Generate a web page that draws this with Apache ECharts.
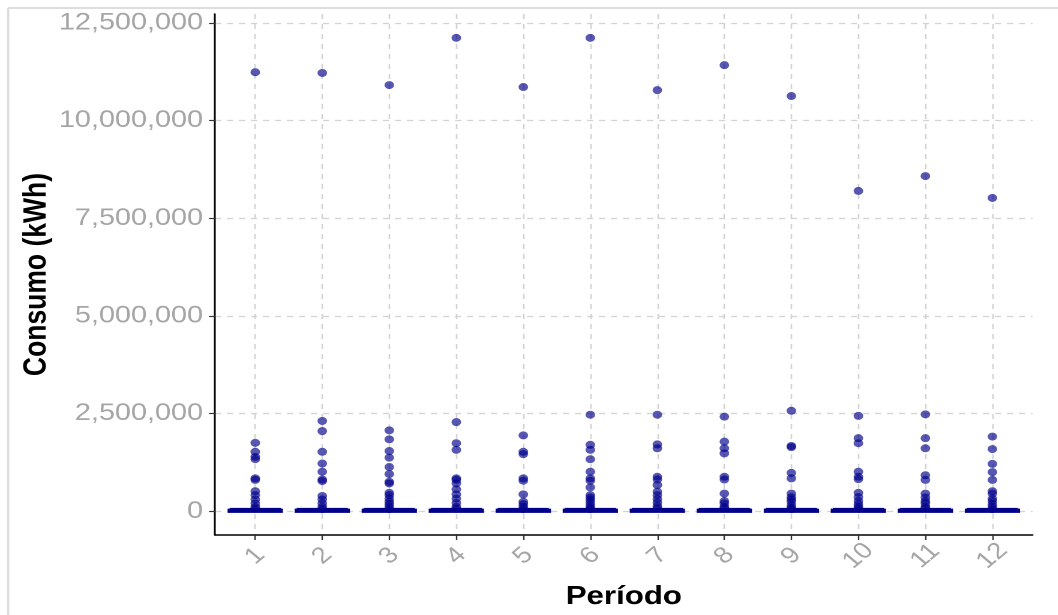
<!DOCTYPE html>
<html>
<head>
<meta charset="utf-8">
<script src="https://cdn.jsdelivr.net/npm/echarts@6/dist/echarts.min.js"></script>
<style>
  html, body { margin: 0; padding: 0; background: #ffffff; overflow: hidden; }
  #wrap { width: 1058px; height: 615px; overflow: hidden; position: relative; }
  #chart { width: 881.67px; height: 615px; transform: scaleX(1.2); transform-origin: 0 0; }
</style>
</head>
<body>
<div id="wrap"><div id="chart"></div></div>
<script>
// ---- data (kWh) ----
const periods = [1, 2, 3, 4, 5, 6, 7, 8, 9, 10, 11, 12];
const yTicks = [0, 2500000, 5000000, 7500000, 10000000, 12500000];

// flat boxes: [min, Q1, median, Q3, max] per period
const boxMin    = [0, 0, 0, 0, 0, 0, 0, 0, 0, 0, 0, 0];
const boxQ1     = [0, 0, 0, 0, 0, 0, 0, 0, 0, 0, 0, 0];
const boxMedian = [0, 0, 0, 0, 0, 0, 0, 0, 0, 0, 0, 0];
const boxQ3     = [20000, 20000, 20000, 20000, 20000, 20000, 20000, 20000, 20000, 20000, 20000, 20000];
const boxMax    = [40000, 40000, 40000, 40000, 40000, 40000, 40000, 40000, 40000, 40000, 40000, 40000];

// outliers per period
const outliers1  = [11240000, 1750000, 1520000, 1390000, 1330000, 840000, 800000, 510000, 410000, 300000, 200000, 110000, 60000];
const outliers2  = [11220000, 2310000, 2050000, 1520000, 1220000, 1010000, 810000, 770000, 390000, 300000, 200000, 110000, 50000];
const outliers3  = [10910000, 2070000, 1840000, 1540000, 1370000, 1130000, 950000, 750000, 710000, 470000, 410000, 320000, 240000, 180000, 110000, 50000];
const outliers4  = [12120000, 2280000, 1740000, 1570000, 840000, 800000, 710000, 560000, 430000, 320000, 210000, 110000, 60000];
const outliers5  = [10860000, 1940000, 1520000, 1460000, 840000, 780000, 430000, 240000, 180000, 110000, 50000];
const outliers6  = [12120000, 2470000, 1700000, 1570000, 1330000, 1010000, 840000, 780000, 610000, 410000, 350000, 290000, 220000, 150000, 90000, 50000];
const outliers7  = [10780000, 2470000, 1710000, 1610000, 880000, 810000, 670000, 500000, 410000, 310000, 220000, 130000, 70000];
const outliers8  = [11420000, 2420000, 1780000, 1610000, 1480000, 880000, 810000, 450000, 260000, 200000, 110000, 70000];
const outliers9  = [10630000, 2570000, 1670000, 1640000, 980000, 840000, 450000, 360000, 300000, 240000, 150000, 90000, 50000];
const outliers10 = [8200000, 2440000, 1870000, 1740000, 1010000, 880000, 820000, 470000, 360000, 260000, 180000, 110000, 60000];
const outliers11 = [8580000, 2480000, 1870000, 1610000, 920000, 800000, 450000, 350000, 260000, 200000, 110000, 70000];
const outliers12 = [8020000, 1910000, 1590000, 1210000, 1000000, 800000, 510000, 450000, 320000, 260000, 180000, 110000, 50000];

const allOutliers = [outliers1, outliers2, outliers3, outliers4, outliers5, outliers6,
                     outliers7, outliers8, outliers9, outliers10, outliers11, outliers12];

const boxData = periods.map((p, i) => [p, boxMin[i], boxQ1[i], boxMedian[i], boxQ3[i], boxMax[i]]);
const pointData = [];
periods.forEach((p, i) => allOutliers[i].forEach(v => pointData.push([p, v])));

const grey = '#a6a6a6';
const gridLine = { show: true, lineStyle: { color: '#d3d3d3', type: [5, 5], width: 1.3 } };

const chart = echarts.init(document.getElementById('chart'), null, { renderer: 'canvas', devicePixelRatio: 2 });
chart.setOption({
  animation: false,
  backgroundColor: '#ffffff',
  textStyle: { fontFamily: 'Liberation Sans, Arial, sans-serif' },
  grid: { left: 179.2, right: 21.5, top: 14, bottom: 80, containLabel: false },
  graphic: [
    { type: 'line', shape: { x1: 6.8, y1: 8, x2: 6.8, y2: 615 }, style: { stroke: '#dddddd', lineWidth: 2 } },
    { type: 'line', shape: { x1: 6.8, y1: 8, x2: 882, y2: 8 }, style: { stroke: '#dddddd', lineWidth: 2 } }
  ],
  xAxis: {
    type: 'value',
    min: 0.4,
    max: 12.6,
    name: 'Período',
    nameLocation: 'middle',
    nameGap: 49,
    nameMoveOverlap: false,
    nameTextStyle: { color: '#000000', fontWeight: 'bold', fontSize: 26, fontFamily: 'Liberation Sans, Arial, sans-serif' },
    axisLine: { show: true, onZero: false, lineStyle: { color: '#000000', width: 1.5 } },
    axisTick: { show: true, customValues: periods, length: 5, lineStyle: { color: '#333333', width: 1.2 } },
    axisLabel: {
      customValues: periods,
      formatter: v => String(v),
      rotate: 45,
      align: 'center',
      verticalAlign: 'middle',
      margin: 21,
      color: grey,
      fontSize: 23
    },
    splitLine: gridLine
  },
  yAxis: {
    type: 'value',
    min: -610000,
    max: 12730000,
    name: 'Consumo (kWh)',
    nameLocation: 'middle',
    nameGap: 135,
    nameMoveOverlap: false,
    nameTextStyle: { color: '#000000', fontWeight: 'bold', fontSize: 26.5, fontFamily: 'Liberation Sans, Arial, sans-serif' },
    axisLine: { show: true, onZero: false, lineStyle: { color: '#000000', width: 1.5 } },
    axisTick: { show: true, customValues: yTicks, length: 5, lineStyle: { color: '#333333', width: 1.2 } },
    axisLabel: {
      customValues: yTicks,
      formatter: v => Number(v).toLocaleString('en-US'),
      margin: 10,
      color: grey,
      fontSize: 24
    },
    splitLine: gridLine
  },
  series: [
    {
      type: 'boxplot',
      layout: 'horizontal',
      data: boxData,
      boxWidth: ['75%', '75%'],
      itemStyle: { color: '#00008B', borderColor: '#00008B', borderWidth: 3.5 },
      z: 3
    },
    {
      type: 'scatter',
      data: pointData,
      symbol: 'circle',
      symbolSize: 8,
      itemStyle: { color: 'rgba(0,0,139,0.82)' },
      z: 4
    }
  ]
});
</script>
</body>
</html>
